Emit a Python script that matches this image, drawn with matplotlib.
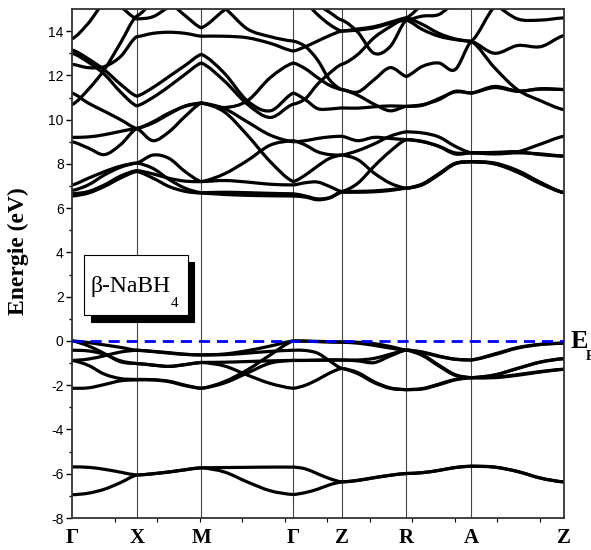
import numpy as np
import matplotlib
matplotlib.use("Agg")
import matplotlib.pyplot as plt
from matplotlib.path import Path
from matplotlib.patches import PathPatch, Rectangle

plt.rcParams['axes.unicode_minus'] = False

# high symmetry path (distances in axis units)
kpoints = ['Γ', 'X', 'M', 'Γ', 'Z', 'R', 'A', 'Z']
kdist = [0.0, 1.522, 3.041, 5.205, 6.343, 7.862, 9.391, 11.571]

# each band: 4 samples per segment (start, 1/4, 1/2, 3/4) + last point
H = 15.6  # above the window

# Na/B semicore like bands around -6 eV
vb_low1 = [-5.69, -5.71, -5.80, -5.93,
           -6.06, -6.00, -5.92, -5.82,
           -5.73, -5.72, -5.71, -5.70,
           -5.70, -5.78, -6.00, -6.22,
           -6.37, -6.30, -6.18, -6.07,
           -5.99, -5.95, -5.85, -5.72,
           -5.66, -5.70, -5.90, -6.20, -6.37]
vb_low2 = [-6.95, -6.88, -6.70, -6.40,
           -6.06, -6.00, -5.92, -5.82,
           -5.73, -5.92, -6.37, -6.77,
           -6.94, -6.85, -6.70, -6.50,
           -6.37, -6.30, -6.18, -6.07,
           -5.99, -5.95, -5.85, -5.72,
           -5.66, -5.70, -5.90, -6.20, -6.37]

# upper valence bands
vb1 = [0.00, -0.07, -0.18, -0.29,
       -0.42, -0.47, -0.53, -0.60,
       -0.63, -0.59, -0.44, -0.23,
       0.00, -0.01, -0.02, -0.03,
       -0.04, -0.06, -0.12, -0.25,
       -0.41, -0.50, -0.68, -0.82,
       -0.86, -0.59, -0.30, -0.15, -0.10]
vb2 = [0.00, -0.22, -0.57, -0.94,
       -1.02, -1.09, -1.15, -1.07,
       -0.97, -0.96, -0.93, -0.90,
       -0.88, -0.88, -0.87, -0.86,
       -0.86, -0.86, -0.79, -0.60,
       -0.41, -0.63, -1.09, -1.52,
       -1.66, -1.54, -1.24, -0.95, -0.80]
vb3 = [-0.42, -0.45, -0.60, -0.90,
       -1.02, -1.09, -1.15, -1.07,
       -0.97, -1.13, -1.54, -1.92,
       -2.14, -2.00, -1.75, -1.45,
       -1.24, -1.43, -1.84, -2.12,
       -2.20, -2.17, -1.98, -1.76,
       -1.66, -1.66, -1.55, -1.40, -1.28]
vb4 = [-0.88, -0.82, -0.67, -0.50,
       -0.42, -0.48, -0.55, -0.61,
       -0.63, -0.62, -0.55, -0.47,
       -0.42, -0.43, -0.55, -0.90,
       -1.24, -1.48, -1.88, -2.14,
       -2.20, -2.15, -1.95, -1.74,
       -1.66, -1.64, -1.52, -1.38, -1.28]
vb5 = [-0.88, -1.10, -1.50, -1.70,
       -1.74, -1.75, -1.82, -2.00,
       -2.14, -1.84, -1.31, -0.63,
       0.00, -0.01, -0.03, -0.05,
       -0.06, -0.10, -0.20, -0.32,
       -0.41, -0.52, -0.70, -0.83,
       -0.86, -0.62, -0.32, -0.16, -0.10]
vb6 = [-2.14, -2.12, -1.97, -1.80,
       -1.76, -1.76, -1.84, -2.02,
       -2.14, -1.90, -1.45, -1.00,
       -0.88, -0.88, -0.87, -0.86,
       -0.86, -0.90, -0.98, -0.68,
       -0.41, -0.66, -1.13, -1.55,
       -1.66, -1.54, -1.24, -0.95, -0.80]

# conduction bands
cb1 = [6.55, 6.68, 6.98, 7.36,
       7.66, 7.36, 6.98, 6.76,
       6.68, 6.62, 6.58, 6.56,
       6.55, 6.50, 6.38, 6.46,
       6.72, 6.72, 6.74, 6.80,
       6.90, 7.06, 7.51, 8.00,
       8.10, 8.02, 7.66, 7.13, 6.70]
cb2 = [6.65, 6.75, 7.05, 7.45,
       7.70, 7.55, 7.35, 7.22,
       7.20, 7.25, 7.18, 7.08,
       7.05, 7.15, 7.18, 6.98,
       6.75, 7.13, 7.89, 8.57,
       9.10, 9.02, 8.79, 8.45,
       8.50, 8.52, 8.55, 8.42, 8.35]
cb3 = [6.80, 7.05, 7.50, 7.85,
       8.04, 8.40, 8.25, 7.65,
       7.20, 7.55, 8.15, 8.85,
       9.05, 8.85, 8.55, 8.42,
       8.40, 8.19, 7.59, 7.13,
       6.90, 7.08, 7.55, 8.02,
       8.10, 8.00, 7.62, 7.10, 6.70]
cb4 = [7.05, 7.35, 7.65, 7.90,
       8.04, 7.80, 7.30, 6.90,
       6.70, 6.72, 6.70, 6.67,
       6.65, 6.55, 6.42, 6.48,
       6.75, 6.76, 6.78, 6.84,
       6.90, 7.10, 7.55, 8.02,
       8.10, 8.04, 7.70, 7.16, 6.70]
cb5 = [9.00, 8.72, 8.42, 8.87,
       9.60, 9.05, 9.45, 10.15,
       10.75, 10.35, 9.30, 8.10,
       7.20, 7.50, 7.90, 8.25,
       8.40, 8.60, 8.90, 9.25,
       9.45, 9.40, 9.22, 8.80,
       8.50, 8.50, 8.55, 8.90, 9.25]
cb6 = [9.20, 9.22, 9.32, 9.47,
       9.60, 9.85, 10.25, 10.62,
       10.75, 10.50, 9.90, 9.30,
       9.00, 9.05, 9.15, 9.22,
       9.25, 9.05, 9.20, 9.15,
       9.10, 9.00, 8.80, 8.50,
       8.50, 8.45, 8.50, 8.45, 8.35]
cb7 = [11.20, 10.75, 10.38, 10.00,
       9.60, 9.90, 10.30, 10.60,
       10.75, 10.55, 10.85, 11.90,
       12.56, 12.30, 11.90, 11.55,
       11.36, 11.10, 10.70, 10.40,
       10.60, 10.65, 10.95, 11.25,
       11.20, 11.45, 11.28, 11.40, 11.36]
cb8 = [13.15, 12.75, 12.25, 11.60,
       11.06, 11.45, 11.95, 12.45,
       12.95, 12.10, 10.85, 10.40,
       11.20, 10.90, 10.50, 10.48,
       10.53, 10.52, 10.58, 10.62,
       10.60, 10.68, 10.90, 11.28,
       11.20, 11.50, 11.30, 11.38, 11.36]
cb9 = [13.00, 12.60, 12.05, 11.25,
       10.62, 11.00, 11.50, 12.05,
       12.56, 11.75, 10.70, 10.10,
       10.70, 10.95, 11.60, 12.10,
       12.50, 12.95, 13.70, 14.20,
       14.60, 14.30, 13.90, 13.65,
       13.54, 12.35, 11.35, 10.85, 10.45]
cb10 = [12.50, 12.35, 12.40, 12.85,
        13.75, 13.90, 13.95, 13.90,
        13.77, 13.77, 13.70, 13.45,
        13.10, 13.30, 13.55, 13.80,
        14.00, 14.10, 14.20, 14.40,
        14.60, 15.20, H, H,
        H, H, H, H, H]
cb11 = [H, H, 15.50, 15.10,
        14.55, 14.65, 15.10, 15.50,
        H, 15.05, 14.10, 13.75,
        13.55, 13.30, 12.70, 11.80,
        11.36, 11.25, 11.80, 12.35,
        11.95, 12.41, 12.56, 12.26,
        13.54, 15.10, H, H, H]
cb12 = [10.68, 11.36, 12.26, 13.47,
        14.68, 15.30, H, H,
        H, H, H, H,
        H, 15.30, 14.75, 14.30,
        14.00, 14.05, 14.15, 14.35,
        14.50, 14.07, 13.77, 13.62,
        13.54, 13.00, 13.35, 13.30, 13.80]
cb13 = [13.65, 14.35, 15.30, H,
        H, H, 15.30, 14.70,
        14.15, 14.95, H, H,
        H, H, 15.20, 14.85,
        14.50, 13.95, 13.00, 13.30,
        14.50, 14.68, 14.75, 15.30,
        H, 15.20, 14.55, 14.50, 14.60]

valence = [vb_low1, vb_low2, vb1, vb2, vb3, vb4, vb5, vb6]
conduction = [cb1, cb2, cb3, cb4, cb5, cb6, cb7, cb8, cb9, cb10, cb11, cb12, cb13]

# k value of every sample
ksamp = []
for s in range(len(kdist) - 1):
    for f in (0.0, 0.25, 0.5, 0.75):
        ksamp.append(kdist[s] + f * (kdist[s + 1] - kdist[s]))
ksamp.append(kdist[-1])
ksamp = np.array(ksamp)


def band_path(e):
    # smooth cubic pieces inside each segment, free kink at the k-points
    e = np.asarray(e, dtype=float)
    verts = [(ksamp[0], e[0])]
    codes = [Path.MOVETO]
    for s in range(len(kdist) - 1):
        xs = ksamp[4 * s:4 * s + 5]
        ys = e[4 * s:4 * s + 5]
        m = np.gradient(ys, xs)
        m[0] *= 0.5
        m[-1] *= 0.5
        for i in range(4):
            h = xs[i + 1] - xs[i]
            verts += [(xs[i] + h / 3, ys[i] + m[i] * h / 3),
                      (xs[i + 1] - h / 3, ys[i + 1] - m[i + 1] * h / 3),
                      (xs[i + 1], ys[i + 1])]
            codes += [Path.CURVE4] * 3
    return Path(verts, codes)


fig = plt.figure(figsize=(5.91, 5.50), dpi=100)
ax = fig.add_axes([72 / 591, 32 / 550, 492 / 591, 509 / 550])

for e in valence + conduction:
    ax.add_patch(PathPatch(band_path(e), fill=False, ec='black', lw=2.3,
                           capstyle='round', joinstyle='round', zorder=2))

for k in kdist[1:-1]:
    ax.axvline(k, color='#444444', lw=0.8, zorder=1)

# Fermi level
ax.axhline(0, color='#0000ff', lw=2.0, ls=(0, (4, 2.5)), zorder=3)

ax.set_xlim(kdist[0], kdist[-1])
ax.set_ylim(-8, 15)

ax.set_xticks(kdist)
ax.set_xticklabels(kpoints, family='Liberation Serif', fontweight='bold', fontsize=15)
ax.set_xticks(np.arange(0, 12), minor=True)
ax.tick_params(axis='x', which='major', length=0, pad=7)
ax.tick_params(axis='x', which='minor', length=3, width=0.8, direction='out')

ax.set_yticks(np.arange(-8, 15, 2))
ax.set_yticks(np.arange(-7, 15, 2), minor=True)
ax.tick_params(axis='y', which='major', length=4, width=1, pad=2)
ax.tick_params(axis='y', which='minor', length=2.5, width=1)
for lab in ax.get_yticklabels():
    lab.set_family(['Liberation Sans Narrow', 'Liberation Sans'])
    lab.set_fontsize(10)

for sp in ax.spines.values():
    sp.set_linewidth(1.3)
    sp.set_color('#333333')

fig.text(18 / 591, 1 - 251 / 550, 'Energie (eV)', rotation=90, ha='center', va='center',
         family='Liberation Serif', fontweight='bold', fontsize=17)

# compound label with shadowed frame
bx, by, bw, bh = 0.025, 0.3988, 0.210, 0.1179
ax.add_patch(Rectangle((bx + 0.0132, by - 0.0138), bw, bh, transform=ax.transAxes,
                       fc='black', ec='black', lw=0.8, zorder=5))
ax.add_patch(Rectangle((bx, by), bw, bh, transform=ax.transAxes,
                       fc='white', ec='black', lw=0.8, zorder=6))
ax.text(0.0386, 0.444, 'β-NaBH', transform=ax.transAxes, family='Liberation Serif',
        fontsize=17, va='baseline', zorder=7)
ax.text(0.2012, 0.4145, '4', transform=ax.transAxes, family='Liberation Serif',
        fontsize=11, va='baseline', zorder=7)

# Fermi level tag
fig.text(571 / 591, 1 - 341 / 550, 'E', ha='left', va='center',
         family='Liberation Serif', fontweight='bold', fontsize=19)
fig.text(586 / 591, 1 - 357 / 550, 'F', ha='left', va='center',
         family='Liberation Serif', fontweight='bold', fontsize=10)

fig.savefig('out.png', dpi=100)
